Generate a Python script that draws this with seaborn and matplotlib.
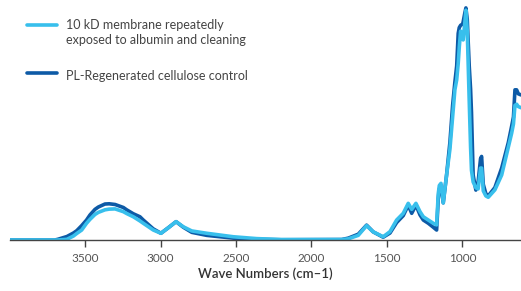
import matplotlib
matplotlib.use("Agg")
import matplotlib.pyplot as plt
from matplotlib.lines import Line2D
import numpy as np
import pandas as pd
import seaborn as sns

wave = [4000, 3700, 3680, 3620, 3577, 3555, 3522, 3490, 3467, 3434, 3412, 3368, 3340,
        3301, 3246, 3224, 3180, 3136, 3114, 3048, 2997, 2948, 2897, 2849, 2793, 2694,
        2518, 2363, 2200, 1800, 1756, 1690, 1635, 1591, 1525, 1480, 1436, 1392, 1359,
        1336, 1308, 1281, 1259, 1226, 1193, 1171, 1160, 1153, 1142, 1127, 1105, 1083,
        1065, 1050, 1038, 1028, 1021, 1012, 999, 995, 985, 977, 968, 955, 946, 940,
        929, 911, 896, 880, 873, 862, 845, 829, 785, 740, 696, 674, 662, 652, 641,
        630, 612]

membrane_10kd = [0, 0, 0, 0.003, 0.017, 0.028, 0.043, 0.072, 0.089, 0.11, 0.119, 0.13, 0.133,
                 0.134, 0.122, 0.114, 0.1, 0.082, 0.072, 0.043, 0.029, 0.053, 0.079, 0.057, 0.039, 0.029,
                 0.014, 0.006, 0.002, 0.002, 0.005, 0.02, 0.062, 0.035, 0.014, 0.036, 0.086, 0.115, 0.158,
                 0.132, 0.158, 0.122, 0.1, 0.086, 0.072, 0.065, 0.2, 0.235, 0.244, 0.16, 0.28, 0.39,
                 0.53, 0.647, 0.69, 0.76, 0.83, 0.9, 0.865, 0.862, 0.93, 0.99, 0.9, 0.6, 0.4, 0.3,
                 0.25, 0.225, 0.22, 0.31, 0.31, 0.212, 0.19, 0.184, 0.216, 0.28, 0.40, 0.46, 0.5, 0.58, 0.585,
                 0.575, 0.57]

control = [0, 0, 0.003, 0.015, 0.03, 0.04, 0.062, 0.086, 0.108, 0.132, 0.142, 0.155, 0.156,
           0.153, 0.14, 0.13, 0.113, 0.1, 0.086, 0.048, 0.029, 0.053, 0.079, 0.055, 0.033, 0.02,
           0.008, 0.003, 0.001, 0.002, 0.008, 0.025, 0.064, 0.035, 0.012, 0.03, 0.075, 0.105, 0.15,
           0.115, 0.15, 0.108, 0.086, 0.072, 0.055, 0.043, 0.18, 0.22, 0.235, 0.16, 0.28, 0.42,
           0.58, 0.68, 0.75, 0.89, 0.915, 0.925, 0.93, 0.94, 0.975, 1.0, 0.95, 0.75, 0.65, 0.55,
           0.28, 0.215, 0.25, 0.35, 0.36, 0.24, 0.2, 0.19, 0.226, 0.31, 0.42, 0.49, 0.53, 0.647, 0.647,
           0.63, 0.625]

label_light = "10 kD membrane repeatedly\nexposed to albumin and cleaning"
label_dark = "PL-Regenerated cellulose control"
xticks = [3500, 3000, 2500, 2000, 1500, 1000]
xlabel = "Wave Numbers (cm\u20131)"

c_light = "#38BFEC"
c_dark = "#0D5AA6"

df = pd.concat([
    pd.DataFrame({"wave": wave, "abs": control, "series": label_dark}),
    pd.DataFrame({"wave": wave, "abs": membrane_10kd, "series": label_light}),
])

sns.set_style("white")
plt.rcParams["font.family"] = ["Lato", "DejaVu Sans"]

fig = plt.figure(figsize=(5.21, 2.91), dpi=100)
ax = fig.add_axes([10 / 521, 51 / 291, 511 / 521, 240 / 291])

sns.lineplot(data=df, x="wave", y="abs", hue="series",
             hue_order=[label_dark, label_light],
             palette={label_dark: c_dark, label_light: c_light},
             sort=False, estimator=None, linewidth=2.6, legend=False, ax=ax,
             solid_capstyle="round", solid_joinstyle="round")

ax.set_xlim(3997, 612)
ax.set_ylim(0, 1.034)
ax.set_xticks(xticks)
ax.set_xticklabels([str(t) for t in xticks])
ax.set_yticks([])
ax.set_ylabel("")
ax.set_xlabel(xlabel, fontsize=9.5, fontweight="semibold", color="#333333", labelpad=3)
for s in ["top", "left", "right"]:
    ax.spines[s].set_visible(False)
ax.spines["bottom"].set_color("#444444")
ax.spines["bottom"].set_linewidth(1.0)
ax.tick_params(axis="x", direction="out", length=5, width=1.0, color="#444444",
               labelsize=8.5, labelcolor="#555555", pad=4, bottom=True)
ax.patch.set_alpha(0)

# legend
fig.add_artist(Line2D([27 / 521, 57 / 521], [1 - 24.5 / 291] * 2, color=c_light,
                      linewidth=2.6, transform=fig.transFigure))
fig.add_artist(Line2D([27 / 521, 57 / 521], [1 - 73 / 291] * 2, color=c_dark,
                      linewidth=2.6, transform=fig.transFigure))
fig.text(66 / 521, 1 - 19 / 291, label_light, fontsize=9, color="#444444",
         va="top", ha="left", linespacing=1.3)
fig.text(66 / 521, 1 - 75.5 / 291, label_dark, fontsize=9, color="#444444",
         va="center", ha="left")

fig.savefig("out.png", dpi=100)
